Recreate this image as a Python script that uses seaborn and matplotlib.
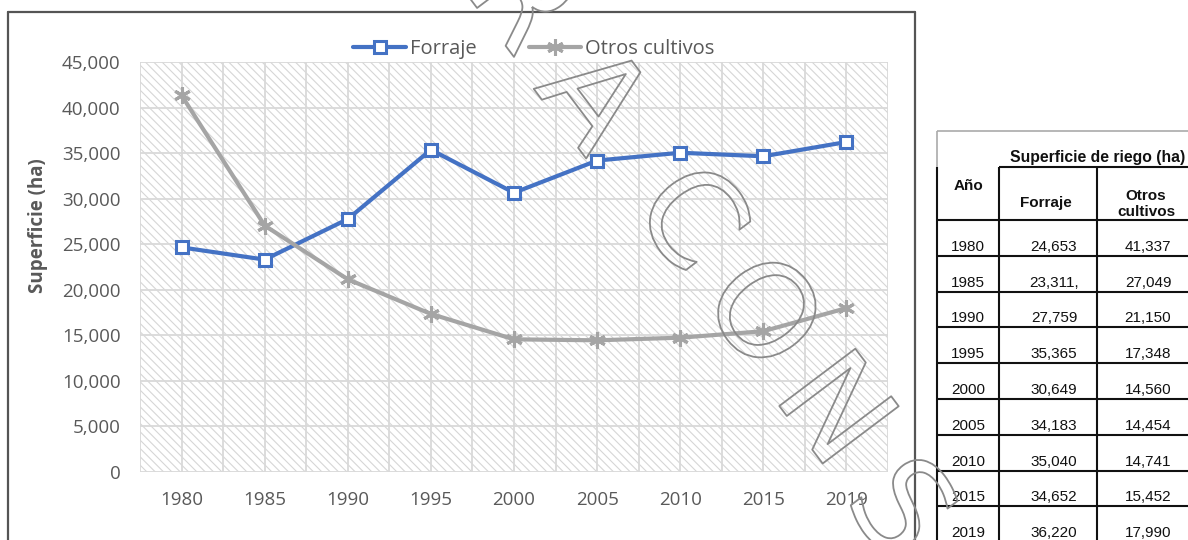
import numpy as np
import pandas as pd
import matplotlib
matplotlib.use("Agg")
import matplotlib.pyplot as plt
import seaborn as sns
from matplotlib import patheffects as pe
from matplotlib.lines import Line2D
from matplotlib.patches import Rectangle
from matplotlib.ticker import FuncFormatter

# --- data -------------------------------------------------------------
anios = ["1980", "1985", "1990", "1995", "2000", "2005", "2010", "2015", "2019"]
forraje = [24653, 23311, 27759, 35365, 30649, 34183, 35040, 34652, 36220]
otros = [41337, 27049, 21150, 17348, 14560, 14454, 14741, 15452, 17990]
series = ["Forraje", "Otros cultivos"]
y_ticks = list(range(0, 45001, 5000))

# --- style ------------------------------------------------------------
sns.set_style("white")
plt.rcParams["font.family"] = ["Open Sans", "DejaVu Sans"]
plt.rcParams["hatch.linewidth"] = 0.8

AZUL = "#4472C4"
GRIS = "#A5A5A5"
TEXTO = "#595959"
REJILLA = "#d9d9d9"

W, H = 1188, 540
fig = plt.figure(figsize=(W / 100, H / 100), dpi=100)


def fx(px):
    return px / W


def fy(py):
    return 1 - py / H


ax = fig.add_axes([fx(140), fy(472), fx(888) - fx(140), fy(62) - fy(472)])

# hatched plot-area background
ax.add_patch(Rectangle((0, 0), 1, 1, transform=ax.transAxes, facecolor="white",
                       edgecolor="#d6d6d6", lw=0, hatch="\\\\\\\\", zorder=0))

sns.lineplot(x=anios, y=forraje, ax=ax, color=AZUL, lw=3, marker="s", ms=9,
             mfc="white", mec=AZUL, mew=2.2, label=series[0], sort=False, zorder=3)
sns.lineplot(x=anios, y=otros, ax=ax, color=GRIS, lw=3, marker=(6, 2, 0), ms=12,
             mec=GRIS, mew=2.2, label=series[1], sort=False, zorder=3)

ax.set_xlim(-0.5, len(anios) - 0.5)
ax.set_ylim(y_ticks[0], y_ticks[-1])
ax.set_yticks(y_ticks)
ax.yaxis.set_major_formatter(FuncFormatter(lambda v, p: f"{int(v):,}"))
ax.set_xticks(range(len(anios)))
ax.set_xticklabels(anios)
ax.set_xticks(np.arange(-0.5, len(anios), 1.0), minor=True)

ax.set_axisbelow(True)
ax.grid(axis="x", which="both", color=REJILLA, lw=1.3)
ax.grid(axis="y", which="major", color=REJILLA, lw=1.3)
for s in ax.spines.values():
    s.set_visible(False)
ax.tick_params(axis="both", which="both", length=0, labelsize=13.5, labelcolor=TEXTO)
ax.tick_params(axis="y", pad=14)
ax.tick_params(axis="x", pad=14)

ax.set_xlabel("")
ax.set_ylabel("Superficie (ha)", fontsize=13.5, fontweight="bold", color=TEXTO)
ax.yaxis.set_label_coords((48 - 140) / 748, (472 - 226) / 410)

ax.legend(loc="center", bbox_to_anchor=(fx(534), fy(49)), bbox_transform=fig.transFigure,
          ncol=2, frameon=False, fontsize=14.5, handlelength=2.6, columnspacing=2.6,
          handletextpad=0.2, labelcolor=TEXTO)

# chart frame
for (x0, y0, x1, y1) in [(8, 12, 915, 12), (8, 12, 8, 545), (915, 12, 915, 545)]:
    fig.add_artist(Line2D([fx(x0), fx(x1)], [fy(y0), fy(y1)], transform=fig.transFigure,
                          color="#555555", lw=1.6))

# --- table ------------------------------------------------------------
NEGRO = "#111111"
TAB_FONT = ["Liberation Sans", "DejaVu Sans"]


def linea(x0, y0, x1, y1, color=NEGRO, lw=1.5):
    fig.add_artist(Line2D([fx(x0), fx(x1)], [fy(y0), fy(y1)], transform=fig.transFigure,
                          color=color, lw=lw, solid_capstyle="butt"))


def celda(x, y, s, bold=False, va="baseline", size=11.0):
    fig.text(fx(x), fy(y), s, ha="center", va=va, fontsize=size, color=NEGRO,
             family=TAB_FONT, fontweight="bold" if bold else "normal",
             multialignment="center", linespacing=1.1)


linea(937, 131, 1188, 131, color="#aaaaaa", lw=1.2)
linea(937, 131, 937, 168, color="#aaaaaa", lw=1.2)
linea(937, 167, 937, 545)
linea(999, 167, 999, 545)
linea(1097, 167, 1097, 545)
linea(999, 167, 1188, 167)
linea(937, 220, 1188, 220)

celda(1098, 158, "Superficie de riego (ha)", bold=True, va="center", size=11.3)
celda(968, 186, "Año", bold=True, va="center")
celda(1046, 203, "Forraje", bold=True, va="center")
celda(1146, 204, "Otros\ncultivos", bold=True, va="center")

forraje_txt = [f"{v:,}" for v in forraje]
forraje_txt[1] += ","
otros_txt = [f"{v:,}" for v in otros]
paso = 35.8
for i, anio in enumerate(anios):
    y_fondo = 220 + (i + 1) * paso
    linea(937, y_fondo, 1188, y_fondo)
    celda(968, y_fondo - 5, anio)
    celda(1054, y_fondo - 5, forraje_txt[i])
    celda(1148, y_fondo - 5, otros_txt[i])

# --- outlined diagonal watermark --------------------------------------
marca = [("R", 527, -5), ("A", 598, 95), ("C", 695, 215), ("O", 767, 310),
         ("N", 839, 406), ("S", 905, 505)]
tam = 94
ang = np.deg2rad(53)
ux, uy = np.sin(ang), -np.cos(ang)
media_altura = 0.73 * tam * 100 / 72 / 2
for letra, cx, cy in marca:
    bx = cx - media_altura * ux
    by = cy - media_altura * uy
    t = fig.text(fx(bx), fy(by), letra, ha="center", va="baseline", rotation=-53,
                 rotation_mode="anchor", fontsize=tam, color="none",
                 family=["DejaVu Sans"], zorder=10)
    t.set_path_effects([pe.Stroke(linewidth=1.3, foreground="#8a8a8a")])

fig.savefig("out.png", dpi=100)
